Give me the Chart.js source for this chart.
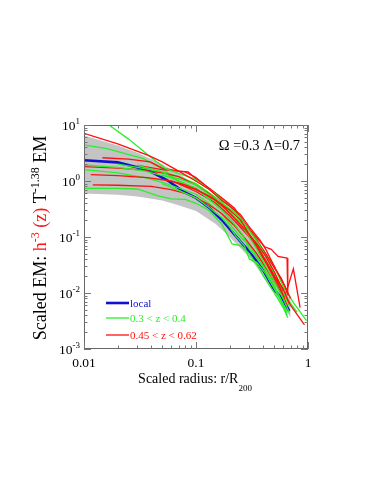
<!DOCTYPE html>
<html>
<head>
<meta charset="utf-8">
<script src="https://cdn.jsdelivr.net/npm/chart.js@4/dist/chart.umd.min.js"></script>
<style>
html,body{margin:0;padding:0;background:#fff;}
#c{display:block;}
</style>
</head>
<body>
<canvas id="c" width="382" height="494"></canvas>
<script>
// ---- data ----
const xTickValues = [0.01, 0.1, 1];
const xTickLabels = ['0.01', '0.1', '1'];
const yTickExponents = [-3, -2, -1, 0, 1];

const bandUpper = [[0.01,6.5],[0.02,4.3],[0.03,3.2],[0.05,2.0],[0.07,1.35],[0.1,0.85],[0.15,0.45],[0.2,0.27],[0.3,0.1],[0.4,0.045],[0.5,0.022],[0.6,0.012],[0.7,0.0075]];
const bandLower = [[0.01,0.6],[0.02,0.57],[0.03,0.53],[0.05,0.45],[0.07,0.37],[0.1,0.29],[0.15,0.17],[0.2,0.1],[0.3,0.043],[0.4,0.02],[0.5,0.01],[0.6,0.0058],[0.7,0.0036]];

const localLine = [[0.01,2.35],[0.02,2.15],[0.037,1.57],[0.055,1.04],[0.078,0.64],[0.1,0.5],[0.133,0.325],[0.175,0.19],[0.25,0.083],[0.3,0.055],[0.4,0.025],[0.5,0.0115],[0.6,0.0075],[0.68,0.0048]];

const greenLines = [
 [[0.0167,10],[0.025,5.6],[0.039,2.7],[0.053,1.68],[0.075,1.3],[0.096,1.1],[0.12,0.8],[0.15,0.58],[0.2,0.35],[0.25,0.22],[0.3,0.13],[0.37,0.07],[0.45,0.035],[0.55,0.016],[0.62,0.009],[0.68,0.006]],
 [[0.01,4.4],[0.016,3.8],[0.034,2.5],[0.052,1.57],[0.073,0.91],[0.096,0.74],[0.13,0.55],[0.17,0.4],[0.22,0.28],[0.28,0.16],[0.35,0.09],[0.42,0.05],[0.5,0.03],[0.6,0.013],[0.75,0.0065],[0.97,0.0032]],
 [[0.01,1.93],[0.02,1.75],[0.035,1.5],[0.05,1.25],[0.07,1.1],[0.1,0.85],[0.13,0.58],[0.17,0.38],[0.21,0.25],[0.26,0.15],[0.3,0.1],[0.35,0.06],[0.42,0.03],[0.5,0.016],[0.6,0.008],[0.68,0.0045]],
 [[0.01,1.6],[0.02,1.4],[0.035,1.15],[0.05,0.95],[0.07,0.75],[0.1,0.58],[0.13,0.4],[0.17,0.26],[0.2,0.17],[0.25,0.1],[0.3,0.07],[0.35,0.045],[0.4,0.028],[0.48,0.016],[0.55,0.009],[0.65,0.0045]],
 [[0.01,0.74],[0.02,0.74],[0.03,0.72],[0.045,0.55],[0.06,0.48],[0.08,0.47],[0.1,0.4],[0.13,0.3],[0.17,0.17],[0.21,0.075],[0.25,0.07],[0.3,0.05],[0.35,0.032],[0.4,0.02],[0.5,0.01],[0.6,0.0055],[0.66,0.0036]],
 [[0.02,2.0],[0.03,1.75],[0.05,1.45],[0.07,1.2],[0.1,0.9],[0.13,0.62],[0.17,0.42],[0.22,0.26],[0.27,0.16],[0.33,0.085],[0.4,0.045],[0.48,0.025],[0.55,0.015],[0.65,0.008],[0.8,0.0045]],
 [[0.03,1.9],[0.05,1.45],[0.07,1.0],[0.1,0.72],[0.13,0.47],[0.17,0.3],[0.21,0.19],[0.26,0.11],[0.3,0.06],[0.34,0.045],[0.4,0.03],[0.46,0.016],[0.55,0.009],[0.63,0.005]],
 [[0.05,1.3],[0.07,1.0],[0.1,0.75],[0.12,0.55],[0.15,0.42],[0.2,0.27],[0.25,0.18],[0.3,0.11],[0.35,0.075],[0.42,0.045],[0.5,0.022],[0.55,0.012],[0.62,0.007]],
 [[0.05,0.9],[0.07,0.68],[0.1,0.5],[0.13,0.34],[0.17,0.22],[0.2,0.15],[0.23,0.1],[0.27,0.07],[0.3,0.04],[0.35,0.035],[0.42,0.022],[0.5,0.012],[0.58,0.007],[0.65,0.004]]
];

const redLines = [
 [[0.01,7.1],[0.02,4.6],[0.037,2.9],[0.05,2.2],[0.07,1.5],[0.096,1.04],[0.13,0.72],[0.17,0.45],[0.21,0.33],[0.25,0.25],[0.3,0.15],[0.37,0.09],[0.42,0.06],[0.5,0.03],[0.6,0.015],[0.7,0.008]],
 [[0.0146,2.6],[0.025,2.45],[0.039,2.2],[0.05,1.7],[0.07,1.5],[0.085,1.45],[0.1,1.1],[0.13,0.75],[0.17,0.5],[0.22,0.33],[0.27,0.18],[0.33,0.11],[0.41,0.067],[0.47,0.06],[0.54,0.045],[0.65,0.042],[0.66,0.009]],
 [[0.01,1.8],[0.02,1.7],[0.03,1.6],[0.05,1.4],[0.07,1.2],[0.1,0.85],[0.13,0.6],[0.17,0.38],[0.22,0.22],[0.28,0.12],[0.35,0.065],[0.42,0.035],[0.5,0.018],[0.6,0.01],[0.7,0.006],[0.93,0.0027]],
 [[0.0115,1.3],[0.02,1.25],[0.037,1.15],[0.06,1.0],[0.08,0.85],[0.1,0.7],[0.14,0.5],[0.18,0.33],[0.22,0.22],[0.28,0.13],[0.35,0.07],[0.42,0.038],[0.5,0.02],[0.6,0.012],[0.68,0.0065]],
 [[0.012,0.85],[0.02,0.84],[0.04,0.8],[0.06,0.7],[0.08,0.6],[0.1,0.5],[0.13,0.38],[0.17,0.26],[0.22,0.16],[0.28,0.09],[0.35,0.05],[0.42,0.028],[0.5,0.016],[0.6,0.009],[0.65,0.006]],
 [[0.03,1.9],[0.05,1.6],[0.07,1.5],[0.08,1.45],[0.1,1.15],[0.12,0.85],[0.15,0.6],[0.2,0.36],[0.25,0.23],[0.3,0.13],[0.35,0.085],[0.42,0.05],[0.5,0.028],[0.58,0.018],[0.65,0.011]],
 [[0.06,1.0],[0.08,0.8],[0.1,0.72],[0.12,0.58],[0.15,0.45],[0.2,0.3],[0.25,0.2],[0.3,0.11],[0.35,0.075],[0.42,0.045],[0.5,0.024],[0.6,0.011]],
 [[0.07,0.9],[0.1,0.65],[0.15,0.4],[0.2,0.24],[0.3,0.1],[0.4,0.042],[0.5,0.02],[0.62,0.0085],[0.74,0.027],[0.85,0.0055]]
];

const legendLabels = ['local', '0.3 < z < 0.4', '0.45 < z < 0.62'];
const annotationText = 'Ω =0.3 Λ=0.7';

// ---- styles ----
const BLUE = '#1010d0', GREEN = '#2bee2b', RED = '#ff1010', GRAY = '#c4c4c4';
const SERIF = '"Liberation Serif","Times New Roman",serif';

const toPts = arr => arr.map(p => ({x: p[0], y: p[1]}));
const datasets = [];
// higher order = drawn underneath
datasets.push({data: toPts(bandUpper), order: 100, borderWidth: 0, borderColor: 'rgba(0,0,0,0)', backgroundColor: GRAY, fill: '+1', pointRadius: 0});
datasets.push({data: toPts(bandLower), order: 99, borderWidth: 0, borderColor: 'rgba(0,0,0,0)', backgroundColor: GRAY, fill: false, pointRadius: 0});
datasets.push({data: toPts(localLine), order: 50, borderColor: BLUE, borderWidth: 2.6, fill: false, pointRadius: 0});
greenLines.forEach((l, i) => datasets.push({data: toPts(l), order: 20 + i % 2 * 15, borderColor: GREEN, borderWidth: 1.3, fill: false, pointRadius: 0}));
redLines.forEach((l, i) => datasets.push({data: toPts(l), order: 10 + i % 3 * 12, borderColor: RED, borderWidth: 1.3, fill: false, pointRadius: 0}));

const decor = {
  id: 'decor',
  afterDraw(chart) {
    const ctx = chart.ctx, xs = chart.scales.x, ys = chart.scales.y, a = chart.chartArea;
    ctx.save();
    // box
    ctx.strokeStyle = '#666'; ctx.lineWidth = 1;
    ctx.strokeRect(a.left + 0.5, a.top + 0.5, a.right - a.left - 1, a.bottom - a.top - 1);
    // ticks
    ctx.beginPath();
    for (let e = -2; e <= 0; e++) {
      for (let m = 1; m <= 10; m++) {
        const v = m * Math.pow(10, e);
        if (v > 1.0001) continue;
        const px = Math.round(xs.getPixelForValue(v)) + 0.5;
        const len = (m === 1 || m === 10) ? 7 : 3.5;
        ctx.moveTo(px, a.bottom); ctx.lineTo(px, a.bottom - len);
        ctx.moveTo(px, a.top); ctx.lineTo(px, a.top + len);
      }
    }
    for (let e = -3; e <= 0; e++) {
      for (let m = 1; m <= 10; m++) {
        const v = m * Math.pow(10, e);
        const py = Math.round(ys.getPixelForValue(v)) + 0.5;
        const len = (m === 1 || m === 10) ? 7 : 3.5;
        ctx.moveTo(a.left, py); ctx.lineTo(a.left + len, py);
        ctx.moveTo(a.right, py); ctx.lineTo(a.right - len, py);
      }
    }
    ctx.strokeStyle = '#777'; ctx.stroke();

    ctx.fillStyle = '#000';
    // x tick labels
    ctx.font = '13.5px ' + SERIF; ctx.textAlign = 'center'; ctx.textBaseline = 'alphabetic';
    xTickValues.forEach((v, i) => ctx.fillText(xTickLabels[i], xs.getPixelForValue(v), 367));
    // y tick labels
    yTickExponents.forEach(e => {
      const py = ys.getPixelForValue(Math.pow(10, e));
      ctx.font = '9px ' + SERIF;
      const sup = String(e);
      const sw = ctx.measureText(sup).width;
      ctx.textAlign = 'left';
      ctx.fillText(sup, 80 - sw, py - 1);
      ctx.font = '13.5px ' + SERIF;
      ctx.textAlign = 'right';
      ctx.fillText('10', 80 - sw, py + 5);
    });
    // x title
    ctx.textAlign = 'left';
    ctx.font = '14px ' + SERIF;
    const t1 = 'Scaled radius: r/R';
    const w1 = ctx.measureText(t1).width;
    ctx.font = '9px ' + SERIF;
    const w2 = ctx.measureText('200').width;
    let sx = 195 - (w1 + w2) / 2;
    ctx.font = '14px ' + SERIF;
    ctx.fillText(t1, sx, 383);
    ctx.font = '9px ' + SERIF;
    ctx.fillText('200', sx + w1, 391);
    // y title (rotated, multi-colour)
    const segs = [
      {t: 'Scaled EM: ', c: '#000'},
      {t: 'h', c: RED},
      {t: '-3', c: RED, sup: true},
      {t: ' (z)', c: RED},
      {t: ' T', c: '#000'},
      {t: '-1.38', c: '#000', sup: true},
      {t: ' EM', c: '#000'}
    ];
    const big = '18px ' + SERIF, small = '12px ' + SERIF;
    let total = 0;
    segs.forEach(s => { ctx.font = s.sup ? small : big; s.w = ctx.measureText(s.t).width; total += s.w; });
    ctx.translate(40, 238);
    ctx.rotate(-Math.PI / 2);
    let cx = -total / 2;
    segs.forEach(s => {
      ctx.font = s.sup ? small : big;
      ctx.fillStyle = s.c;
      ctx.fillText(s.t, cx, s.sup ? -1 : 6);
      cx += s.w;
    });
    ctx.setTransform(1, 0, 0, 1, 0, 0);
    // annotation
    ctx.fillStyle = '#000';
    ctx.font = '14.5px ' + SERIF; ctx.textAlign = 'right';
    ctx.fillText(annotationText, 300, 150);
    // legend
    const legCols = [BLUE, GREEN, RED];
    const legY = [303, 318, 335];
    ctx.font = '11px ' + SERIF; ctx.textAlign = 'left';
    legendLabels.forEach((lab, i) => {
      ctx.beginPath();
      ctx.strokeStyle = legCols[i];
      ctx.lineWidth = i === 0 ? 2.6 : 1.3;
      ctx.moveTo(106, legY[i]); ctx.lineTo(129, legY[i]);
      ctx.stroke();
      ctx.fillStyle = legCols[i];
      ctx.fillText(lab, 130, legY[i] + 4);
    });
    ctx.restore();
  }
};

new Chart(document.getElementById('c'), {
  type: 'line',
  data: {datasets},
  options: {
    responsive: false,
    devicePixelRatio: 1,
    animation: false,
    events: [],
    layout: {padding: {left: 84, right: 74, top: 125, bottom: 145}},
    elements: {line: {tension: 0}},
    scales: {
      x: {type: 'logarithmic', min: 0.01, max: 1, display: false},
      y: {type: 'logarithmic', min: 0.001, max: 10, display: false}
    },
    plugins: {legend: {display: false}, tooltip: {enabled: false}},
    clip: {left: 0, top: 0, right: 0, bottom: 0}
  },
  plugins: [decor]
});
</script>
</body>
</html>
